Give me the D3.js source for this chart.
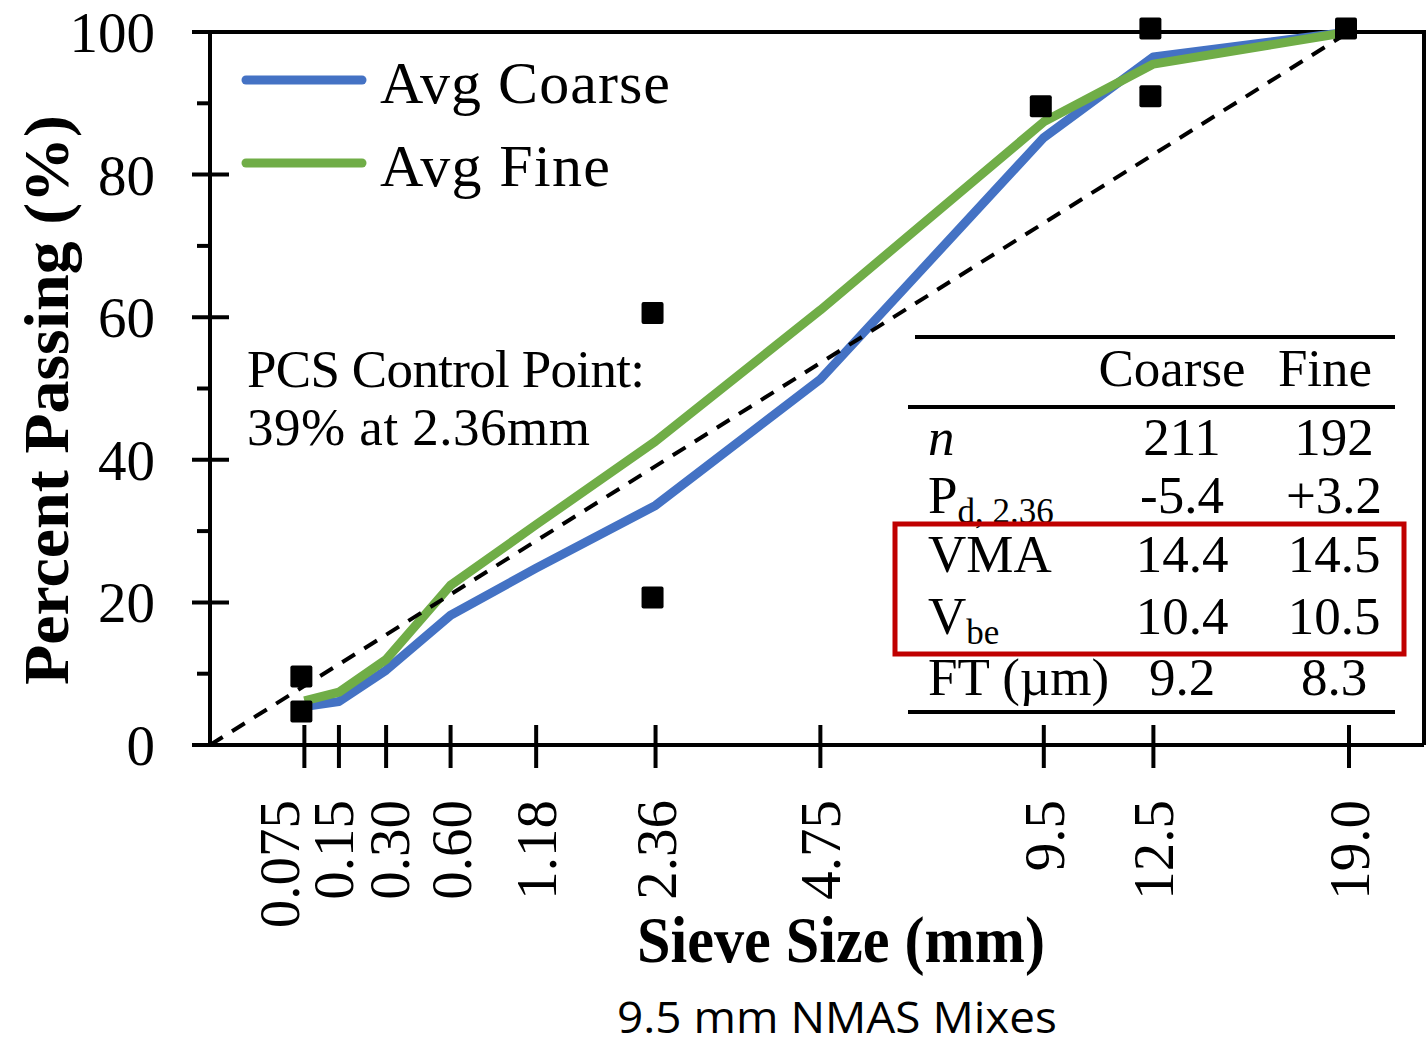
<!DOCTYPE html>
<html>
<head>
<meta charset="utf-8">
<script src="https://cdn.jsdelivr.net/npm/d3@7"></script>
<style>
  html, body { margin: 0; padding: 0; background: #fff; }
  svg { display: block; }
</style>
</head>
<body>
<svg id="chart" width="1428" height="1042"></svg>
<script>
// Sieve sizes (mm) and their axis labels
const sieves = [0.075, 0.15, 0.30, 0.60, 1.18, 2.36, 4.75, 9.5, 12.5, 19.0];
const sieveLabels = ["0.075", "0.15", "0.30", "0.60", "1.18", "2.36", "4.75", "9.5", "12.5", "19.0"];

// Average gradations (percent passing)
const avgCoarse = [5.4, 6.1, 10.5, 18.2, 24.8, 33.6, 51.3, 85.2, 96.5, 100];
const avgFine   = [6.2, 7.4, 12.0, 22.4, 30.9, 42.6, 61.0, 87.4, 95.5, 100];

// Gradation control points
const controlSieves = [0.075, 0.075, 2.36, 2.36, 9.5, 12.5, 12.5, 19.0];
const controlValues = [9.6, 4.7, 60.6, 20.7, 89.6, 100.5, 91.0, 100.5];

// Maximum density line
const maxDensitySieves = [0, 19.0];
const maxDensityValues = [0, 100];

// Y axis ticks
const yMajorTicks = [0, 20, 40, 60, 80, 100];
const yMinorTicks = [10, 30, 50, 70, 90];

// Summary table
const tableHeader = ["Coarse", "Fine"];
const statNames = ["n", "P", "VMA", "V", "FT (µm)"];
const statSubs = ["", "d, 2.36", "", "be", ""];
const coarseStats = ["211", "-5.4", "14.4", "10.4", "9.2"];
const fineStats = ["192", "+3.2", "14.5", "10.5", "8.3"];

(function draw() {
  const svg = d3.select("#chart");
  const serif = '"Liberation Serif", "Times New Roman", serif';
  const sans = '"Open Sans", "Noto Sans", sans-serif';

  const pLeft = 210, pRight = 1424, pTop = 32, pBottom = 745;

  // 0.45 power gradation scale
  const x = d3.scalePow().exponent(0.45).domain([0, 19]).range([pLeft, 1349]);
  const y = d3.scaleLinear().domain([0, 100]).range([pBottom, pTop]);

  const blue = "#4472C4", green = "#70AD47";

  // Plot frame
  svg.append("path")
    .attr("d", `M${pLeft},${pTop} H${pRight} V${pBottom}`)
    .attr("fill", "none").attr("stroke", "#000").attr("stroke-width", 4);

  // Y axis
  const yAxis = svg.append("g");
  yAxis.append("line").attr("x1", pLeft).attr("x2", pLeft).attr("y1", pTop).attr("y2", pBottom)
    .attr("stroke", "#000").attr("stroke-width", 4);
  yAxis.selectAll("line.maj").data(yMajorTicks).join("line")
    .attr("class", "maj")
    .attr("x1", 192).attr("x2", 229)
    .attr("y1", d => y(d)).attr("y2", d => y(d))
    .attr("stroke", "#000").attr("stroke-width", 4);
  yAxis.selectAll("line.min").data(yMinorTicks).join("line")
    .attr("class", "min")
    .attr("x1", 197).attr("x2", pLeft)
    .attr("y1", d => y(d)).attr("y2", d => y(d))
    .attr("stroke", "#000").attr("stroke-width", 4);
  yAxis.selectAll("text").data(yMajorTicks).join("text")
    .attr("x", 155).attr("y", d => y(d)).attr("dy", "0.35em")
    .attr("text-anchor", "end")
    .attr("font-family", serif).attr("font-size", 57)
    .text(d => d);

  // X axis
  const xAxis = svg.append("g");
  xAxis.append("line").attr("x1", 192).attr("x2", pRight).attr("y1", pBottom).attr("y2", pBottom)
    .attr("stroke", "#000").attr("stroke-width", 4);
  xAxis.selectAll("line.tick").data(sieves).join("line")
    .attr("class", "tick")
    .attr("x1", d => x(d)).attr("x2", d => x(d))
    .attr("y1", 725).attr("y2", 768)
    .attr("stroke", "#000").attr("stroke-width", 4);
  // crowded fine-sieve labels are nudged apart
  const labelNudge = { "0.075": -25, "0.15": -6, "0.30": 3 };
  xAxis.selectAll("text").data(sieves).join("text")
    .attr("transform", (d, i) => `translate(${x(d) + (labelNudge[sieveLabels[i]] || 0)},800) rotate(-90)`)
    .attr("dy", "0.35em")
    .attr("text-anchor", "end")
    .attr("font-family", serif).attr("font-size", 57)
    .text((d, i) => sieveLabels[i]);

  // Axis titles
  svg.append("text")
    .attr("transform", `translate(68,400) rotate(-90)`)
    .attr("text-anchor", "middle")
    .attr("font-family", serif).attr("font-weight", "bold").attr("font-size", 64)
    .attr("textLength", 570).attr("lengthAdjust", "spacingAndGlyphs")
    .text("Percent Passing (%)");
  svg.append("text")
    .attr("x", 841).attr("y", 962)
    .attr("text-anchor", "middle")
    .attr("font-family", serif).attr("font-weight", "bold").attr("font-size", 65)
    .attr("textLength", 408).attr("lengthAdjust", "spacingAndGlyphs")
    .text("Sieve Size (mm)");
  svg.append("text")
    .attr("x", 837).attr("y", 1033)
    .attr("text-anchor", "middle")
    .attr("font-family", sans).attr("font-size", 44)
    .attr("textLength", 440).attr("lengthAdjust", "spacingAndGlyphs")
    .text("9.5 mm NMAS Mixes");

  // Series
  const line = d3.line().x(d => x(d[0])).y(d => y(d[1]));

  svg.append("path")
    .datum(d3.zip(sieves, avgCoarse))
    .attr("d", line).attr("fill", "none")
    .attr("stroke", blue).attr("stroke-width", 9).attr("stroke-linejoin", "round");
  svg.append("path")
    .datum(d3.zip(sieves, avgFine))
    .attr("d", line).attr("fill", "none")
    .attr("stroke", green).attr("stroke-width", 9).attr("stroke-linejoin", "round");
  svg.append("path")
    .datum(d3.zip(maxDensitySieves, maxDensityValues))
    .attr("d", line).attr("fill", "none")
    .attr("stroke", "#000").attr("stroke-width", 4).attr("stroke-dasharray", "15,11");

  const ms = 22;
  svg.selectAll("rect.cp").data(d3.zip(controlSieves, controlValues)).join("rect")
    .attr("class", "cp")
    .attr("x", d => x(d[0]) - ms / 2 - 3).attr("y", d => y(d[1]) - ms / 2)
    .attr("width", ms).attr("height", ms).attr("rx", 2)
    .attr("fill", "#000");

  // Legend
  const legend = svg.append("g");
  [["Avg Coarse", blue, 80, 103, 290], ["Avg Fine", green, 163, 186, 230]].forEach(([name, col, ly, ty, w]) => {
    legend.append("line").attr("x1", 246).attr("x2", 362).attr("y1", ly).attr("y2", ly)
      .attr("stroke", col).attr("stroke-width", 9).attr("stroke-linecap", "round");
    legend.append("text").attr("x", 380).attr("y", ty)
      .attr("font-family", serif).attr("font-size", 60)
      .attr("textLength", w).attr("lengthAdjust", "spacing")
      .text(name);
  });

  // Control point note
  const note = svg.append("text").attr("font-family", serif).attr("font-size", 53);
  note.append("tspan").attr("x", 247).attr("y", 387).attr("textLength", 398).text("PCS Control Point:");
  note.append("tspan").attr("x", 247).attr("y", 445).attr("textLength", 343).text("39% at 2.36mm");

  // Summary table
  const tbl = svg.append("g").attr("font-family", serif).attr("font-size", 53);
  const rule = (x1, x2, yy) => tbl.append("line").attr("x1", x1).attr("x2", x2)
    .attr("y1", yy).attr("y2", yy).attr("stroke", "#000").attr("stroke-width", 4);
  rule(915, 1395, 337);
  rule(908, 1395, 407);
  rule(908, 1395, 712);
  const colX = [1182, 1334];
  tbl.append("text").attr("x", 1172).attr("y", 386).attr("text-anchor", "middle").text(tableHeader[0]);
  tbl.append("text").attr("x", 1325).attr("y", 386).attr("text-anchor", "middle").text(tableHeader[1]);
  const rowY = [455, 513, 572, 634, 695];
  statNames.forEach((name, i) => {
    const t = tbl.append("text").attr("x", 928).attr("y", rowY[i]);
    const main = t.append("tspan").text(name);
    if (name === "n") main.attr("font-style", "italic");
    if (statSubs[i]) t.append("tspan").attr("dy", 10).attr("font-size", 35).text(statSubs[i]);
    tbl.append("text").attr("x", colX[0]).attr("y", rowY[i]).attr("text-anchor", "middle").text(coarseStats[i]);
    tbl.append("text").attr("x", colX[1]).attr("y", rowY[i]).attr("text-anchor", "middle").text(fineStats[i]);
  });
  // highlight box around VMA and Vbe rows
  tbl.append("rect").attr("x", 895).attr("y", 524).attr("width", 509).attr("height", 130)
    .attr("fill", "none").attr("stroke", "#C00000").attr("stroke-width", 5);
})();
</script>
</body>
</html>
